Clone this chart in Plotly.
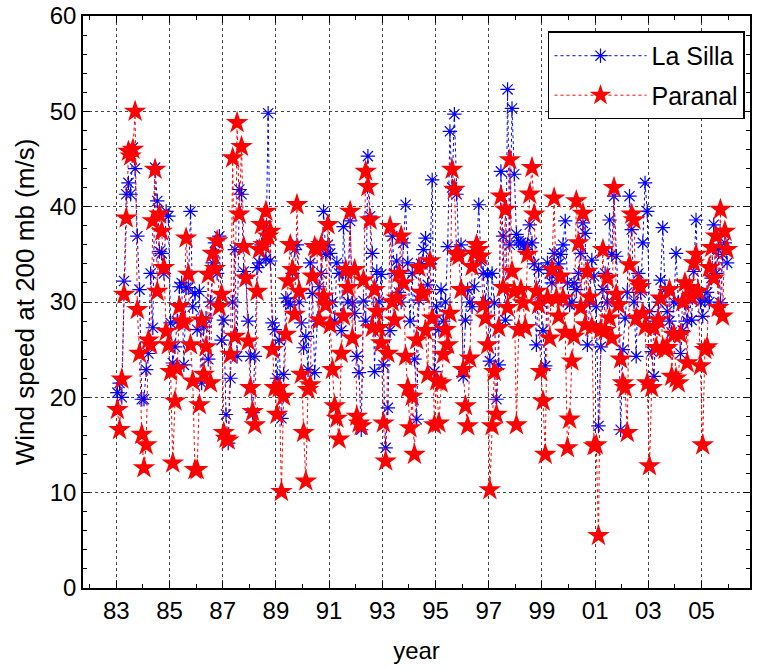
import numpy as np
import plotly.graph_objects as go

# Monthly wind speed at 200 mb (m/s), Jan 1983 - Dec 2005, one row per year
la_silla = [
    20.5, 21.5, 20.0, 32.2, 41.3, 42.5, 41.3, 46.2, 44.0, 36.9, 31.3, 19.8,  # 1983
    19.8, 22.9, 24.6, 33.0, 27.3, 44.1, 40.6, 35.3, 35.1, 33.0, 39.5, 39.0,  # 1984
    27.8, 23.6, 25.3, 28.0, 31.6, 32.0, 23.4, 31.5, 31.5, 39.5, 29.5, 30.9,  # 1985
    27.1, 31.1, 21.5, 27.4, 28.3, 24.0, 30.0, 34.1, 36.2, 33.0, 36.9, 26.0,  # 1986
    28.1, 18.2, 15.2, 22.0, 30.0, 35.5, 24.3, 41.8, 41.3, 33.2, 32.5, 28.0,  # 1987
    24.3, 18.4, 24.3, 33.6, 34.1, 36.0, 38.0, 34.5, 49.8, 34.3, 27.8, 27.1,  # 1988
    22.0, 26.0, 17.8, 22.4, 30.4, 30.0, 29.7, 33.0, 35.5, 36.0, 30.0, 27.8,  # 1989
    25.2, 26.4, 22.9, 34.1, 30.9, 22.6, 28.0, 31.6, 33.0, 39.5, 35.0, 36.0,  # 1990
    35.1, 30.0, 28.0, 34.1, 33.0, 27.0, 37.9, 33.0, 30.0, 38.5, 29.9, 28.8,  # 1991
    24.3, 22.6, 16.6, 30.1, 28.0, 45.3, 39.0, 35.1, 22.7, 33.2, 30.0, 32.9,  # 1992
    23.4, 14.7, 18.9, 27.0, 36.9, 33.0, 34.3, 31.0, 30.0, 36.2, 40.2, 34.1,  # 1993
    28.0, 33.0, 24.0, 17.7, 30.2, 34.0, 35.5, 36.7, 31.8, 34.0, 42.8, 22.7,  # 1994
    29.5, 27.1, 31.3, 28.0, 30.0, 35.8, 47.9, 42.0, 49.7, 41.3, 35.0, 36.0,  # 1995
    22.2, 28.1, 31.3, 30.0, 29.5, 31.6, 35.0, 40.2, 34.3, 33.0, 30.0, 32.9,  # 1996
    23.8, 33.0, 29.9, 19.8, 23.4, 43.7, 36.9, 28.1, 52.3, 36.0, 50.3, 43.4,  # 1997
    37.1, 36.4, 36.2, 36.0, 35.5, 36.0, 38.1, 36.2, 34.0, 25.5, 33.4, 30.0,  # 1998
    27.0, 23.3, 34.1, 33.0, 32.0, 35.1, 33.0, 34.0, 35.0, 36.0, 38.5, 32.0,  # 1999
    29.7, 30.0, 32.0, 31.3, 33.0, 35.1, 38.3, 37.2, 25.5, 30.0, 34.4, 32.7,  # 2000
    29.5, 17.0, 25.3, 31.3, 33.0, 30.0, 38.6, 35.0, 41.1, 34.8, 30.0, 16.6,  # 2001
    25.0, 28.3, 31.0, 41.1, 37.6, 30.0, 24.3, 33.0, 31.0, 36.2, 42.5, 39.5,  # 2002
    29.0, 24.8, 22.2, 28.0, 30.0, 32.3, 37.8, 31.3, 29.0, 28.0, 26.8, 30.0,  # 2003
    35.1, 30.0, 24.6, 27.0, 29.9, 28.0, 31.0, 28.1, 33.2, 38.6, 31.0, 30.0,  # 2004
    28.5, 30.2, 31.0, 30.0, 32.5, 38.1, 33.0, 35.5, 29.9, 35.0, 36.2, 34.1,  # 2005
]

paranal = [
    18.7, 16.6, 21.9, 30.8, 38.8, 45.8, 45.3, 46.0, 50.0, 29.2, 24.6, 16.1,  # 1983
    12.6, 15.0, 26.0, 25.5, 38.5, 43.9, 31.1, 39.2, 37.4, 33.6, 26.9, 25.5,  # 1984
    22.7, 13.1, 19.6, 23.0, 29.5, 28.0, 27.8, 36.7, 32.9, 25.5, 21.7, 12.4,  # 1985
    12.4, 19.2, 28.1, 22.4, 25.3, 32.9, 21.5, 35.1, 33.5, 36.4, 29.5, 30.8,  # 1986
    16.3, 15.7, 15.5, 24.5, 45.1, 26.4, 48.8, 39.2, 46.3, 35.8, 32.5, 25.9,  # 1987
    21.0, 18.5, 17.1, 31.1, 35.5, 38.1, 36.0, 39.5, 36.9, 37.4, 25.0, 21.0,  # 1988
    18.2, 21.0, 10.1, 20.1, 26.6, 32.2, 36.0, 33.4, 28.7, 40.2, 31.1, 22.4,  # 1989
    16.3, 11.2, 20.8, 21.3, 32.7, 35.8, 35.5, 28.1, 36.0, 30.6, 29.7, 38.1,  # 1990
    27.6, 22.9, 19.1, 17.8, 15.6, 24.6, 28.5, 33.4, 31.5, 39.5, 26.2, 33.4,  # 1991
    18.0, 17.3, 17.0, 32.3, 43.7, 42.1, 38.6, 27.3, 31.3, 29.0, 27.3, 25.7,  # 1992
    17.3, 13.3, 24.6, 37.9, 30.0, 28.1, 30.4, 33.0, 36.9, 32.0, 24.3, 21.0,  # 1993
    16.8, 20.1, 14.0, 26.0, 33.6, 31.0, 30.8, 27.0, 22.4, 34.3, 28.3, 17.1,  # 1994
    21.7, 17.3, 21.5, 24.5, 27.1, 25.5, 28.8, 43.9, 41.8, 35.1, 34.8, 31.3,  # 1995
    22.9, 19.1, 17.0, 24.1, 33.7, 35.1, 36.0, 35.5, 34.8, 29.7, 28.3, 25.5,  # 1996
    10.3, 17.0, 22.7, 18.2, 27.3, 41.1, 31.5, 39.7, 29.4, 44.9, 33.2, 31.1,  # 1997
    17.1, 27.1, 31.3, 29.9, 27.3, 35.0, 41.3, 44.1, 39.2, 31.1, 29.7, 22.7,  # 1998
    19.6, 14.0, 30.4, 26.2, 33.4, 40.9, 30.4, 28.5, 32.7, 30.4, 26.8, 14.7,  # 1999
    17.7, 23.8, 26.4, 40.6, 36.2, 29.4, 39.3, 27.6, 33.2, 30.5, 27.4, 14.9,  # 2000
    15.0, 5.5, 27.1, 35.5, 27.0, 32.5, 28.3, 26.2, 42.0, 30.8, 29.7, 24.0,  # 2001
    21.5, 21.0, 16.3, 33.9, 39.2, 38.6, 28.3, 32.0, 31.6, 28.8, 27.4, 21.5,  # 2002
    12.8, 21.0, 27.3, 25.2, 28.1, 30.4, 25.2, 25.0, 25.2, 31.3, 22.2, 26.6,  # 2003
    22.0, 21.5, 26.6, 30.0, 32.0, 23.6, 31.5, 30.5, 34.1, 35.0, 31.1, 23.3,  # 2004
    15.0, 25.0, 25.3, 33.6, 35.7, 32.5, 36.9, 29.4, 39.7, 28.5, 37.4, 35.5,  # 2005
]

start_year = 1983
tick_years = list(range(1983, 2006, 2))
tick_labels = ["83", "85", "87", "89", "91", "93", "95", "97", "99", "01", "03", "05"]

x = start_year + (np.arange(len(paranal)) + 0.5) / 12.0

FONT = "Liberation Sans, Arial, Helvetica, sans-serif"

fig = go.Figure()
fig.add_trace(go.Scatter(
    x=x, y=la_silla, name="La Silla", mode="lines+markers",
    legendgroup="a",
    line=dict(color="#0000ff", width=1, dash="dot"),
    marker=dict(symbol="asterisk-open", size=12, color="#0000ff",
                line=dict(color="#0000ff", width=1.2)),
))
fig.add_trace(go.Scatter(
    x=x, y=paranal, name="Paranal", mode="lines+markers",
    legendgroup="b",
    line=dict(color="#ff0000", width=1, dash="dot"),
    marker=dict(symbol="star", size=17, color="#ff0000",
                line=dict(color="#ff0000", width=0)),
))

axis_common = dict(
    showline=True, linecolor="black", linewidth=1.5, mirror="allticks",
    ticks="inside", ticklen=7, tickwidth=1, tickcolor="black",
    showgrid=True, gridcolor="#444444", griddash="dot", gridwidth=1,
    zeroline=False, automargin=False,
    tickfont=dict(family=FONT, size=24, color="black"),
)

fig.update_xaxes(
    range=[1981.75, 2006.82],
    tickvals=tick_years, ticktext=tick_labels,
    minor=dict(dtick=1, tick0=1982, ticks="inside", ticklen=4, tickcolor="black", showgrid=False),
    title=dict(text="year", font=dict(family=FONT, size=24, color="black"), standoff=20),
    **axis_common,
)
fig.update_yaxes(
    range=[0, 60], dtick=10, tick0=0,
    minor=dict(dtick=2, ticks="inside", ticklen=4, tickcolor="black", showgrid=False),
    title=dict(text="Wind speed at 200 mb (m/s)", font=dict(family=FONT, size=26, color="black"), standoff=8),
    **axis_common,
)

fig.update_layout(
    width=759, height=668,
    margin=dict(l=83, r=9, t=16, b=80),
    paper_bgcolor="white", plot_bgcolor="white",
    showlegend=True,
    legend=dict(
        x=0.9925, y=0.973, xanchor="right", yanchor="top",
        bgcolor="white", bordercolor="black", borderwidth=1.5,
        font=dict(family=FONT, size=25, color="black"),
        itemwidth=92, traceorder="grouped", tracegroupgap=4,
    ),
)

fig.write_html("out.html")
